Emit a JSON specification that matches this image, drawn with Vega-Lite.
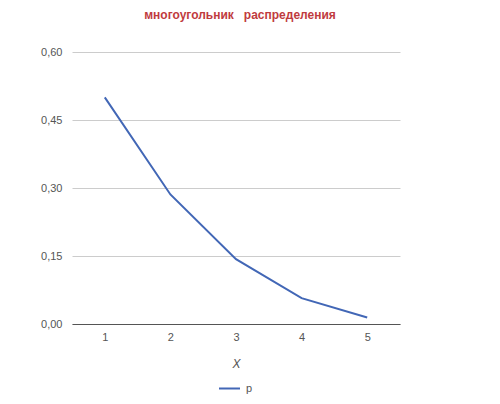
{
  "$schema": "https://vega.github.io/schema/vega-lite/v6.json",
  "autosize": "none",
  "width": 328,
  "height": 272,
  "padding": {"left": 72, "top": 52, "right": 100, "bottom": 80},
  "background": "white",
  "title": {
    "text": "многоугольник\u00a0\u00a0\u00a0распределения",
    "color": "#bf3b3e",
    "font": "Liberation Sans",
    "fontSize": 12,
    "fontWeight": "bold",
    "anchor": "middle",
    "offset": 24,
    "dx": 4
  },
  "data": {
    "values": [
      {"X": "1", "p": 0.5, "series": "p"},
      {"X": "2", "p": 0.2857, "series": "p"},
      {"X": "3", "p": 0.1429, "series": "p"},
      {"X": "4", "p": 0.0571, "series": "p"},
      {"X": "5", "p": 0.0143, "series": "p"}
    ]
  },
  "mark": {"type": "line", "strokeWidth": 2},
  "encoding": {
    "x": {
      "field": "X",
      "type": "ordinal",
      "scale": {"type": "point", "padding": 0.5},
      "axis": {
        "title": "X",
        "titleFontStyle": "italic",
        "titleFontWeight": "normal",
        "titleFont": "Liberation Sans",
        "titleFontSize": 12,
        "titleColor": "#555",
        "titlePadding": 16,
        "labelAngle": 0,
        "labelFont": "Liberation Sans",
        "labelFontSize": 11,
        "labelColor": "#555",
        "labelPadding": 7,
        "ticks": false,
        "domainColor": "#555",
        "domainWidth": 1,
        "grid": false
      }
    },
    "y": {
      "field": "p",
      "type": "quantitative",
      "scale": {"domain": [0, 0.6], "nice": false},
      "axis": {
        "title": null,
        "values": [0, 0.15, 0.3, 0.45, 0.6],
        "labelExpr": "replace(format(datum.value, '.2f'), '.', ',')",
        "labelFont": "Liberation Sans",
        "labelFontSize": 11,
        "labelColor": "#555",
        "labelPadding": 10,
        "ticks": false,
        "domain": false,
        "grid": true,
        "gridColor": "#cccccc",
        "gridWidth": 1
      }
    },
    "color": {
      "field": "series",
      "type": "nominal",
      "scale": {"range": ["#4267b6"]},
      "legend": {
        "title": null,
        "orient": "none",
        "legendX": 146,
        "legendY": 325,
        "symbolType": "stroke",
        "symbolSize": 441,
        "symbolStrokeWidth": 2,
        "labelFont": "Liberation Sans",
        "labelFontSize": 11,
        "labelColor": "#555",
        "labelOffset": 5
      }
    }
  },
  "config": {
    "view": {"stroke": null}
  }
}
